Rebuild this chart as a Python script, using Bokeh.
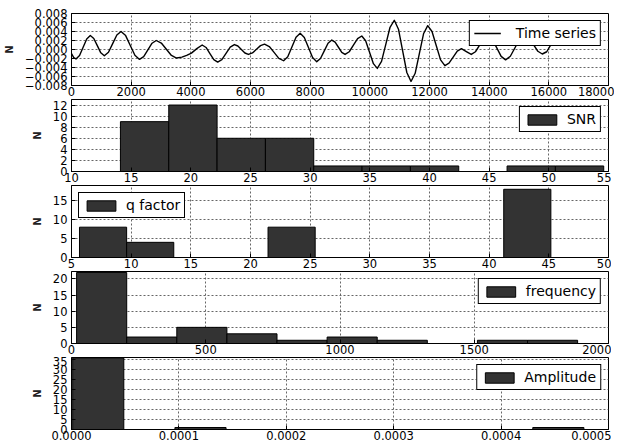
from bokeh.plotting import figure
from bokeh.layouts import column
from bokeh.models import Range1d, FixedTicker
from bokeh.embed import file_html
from bokeh.resources import INLINE

FONT = "DejaVu Sans"

# ---------------- data ----------------
ts_x = [0, 75, 150, 270, 390, 510, 630, 747, 865, 982, 1100, 1240, 1380, 1520, 1660,
        1815, 1970, 2125, 2280, 2420, 2560, 2700, 2840, 3010, 3180, 3350, 3520, 3700,
        3860, 4020, 4200, 4380, 4510, 4640, 4770, 4900, 5040, 5180, 5320, 5460, 5577,
        5695, 5812, 5930, 6065, 6200, 6335, 6470, 6630, 6790, 6950, 7110, 7249, 7388,
        7526, 7665, 7804, 7943, 8081, 8220, 8346, 8473, 8599, 8725, 8836, 8948, 9059,
        9170, 9310, 9450, 9590, 9730, 9860, 9990, 10120, 10250, 10392, 10535, 10677,
        10820, 10960, 11100, 11240, 11380, 11520, 11660, 11800, 11940, 12084, 12228,
        12371, 12515, 12654, 12793, 12931, 13070, 13235, 13400, 13540, 13680, 13820,
        13960, 14107, 14255, 14402, 14550, 14710, 14870, 15030, 15190, 15337, 15485,
        15632, 15780, 15930, 16080, 16230, 16384]
ts_y = [-0.0009, -0.0018, -0.0021, -0.00134, 0.0005, 0.00234, 0.0031, 0.00244, 0.00085,
        -0.00074, -0.0014, -0.00061, 0.0013, 0.00321, 0.0040, 0.00309, 0.0009, -0.00129,
        -0.0022, -0.00159, -0.0001, 0.00139, 0.0020, 0.00143, 0.00005, -0.00133, -0.0019,
        -0.0017, -0.0013, -0.0008, 0.0002, 0.0010, 0.00045, -0.0009, -0.00225, -0.0028,
        -0.00223, -0.00085, 0.00053, 0.0011, 0.00078, 0.0, -0.00078, -0.0011, -0.00076,
        0.00005, 0.00086, 0.0012, 0.00066, -0.00065, -0.00196, -0.0025, -0.00161, 0.00055,
        0.00271, 0.0036, 0.00268, 0.00045, -0.00178, -0.0027, -0.0020, -0.0003, 0.0014,
        0.0021, 0.00163, 0.0005, -0.00063, -0.0011, -0.0005, 0.00095, 0.0024, 0.0030,
        0.00195, -0.0006, -0.00315, -0.0042, -0.00264, 0.00115, 0.00494, 0.0065, 0.00451,
        -0.0003, -0.00511, -0.0071, -0.00529, -0.0009, 0.00349, 0.0053, 0.0040, 0.00085,
        -0.0023, -0.0036, -0.00305, -0.0017, -0.00035, 0.0002, -0.00045, -0.0011, -0.0005,
        0.00095, 0.0024, 0.0030, 0.00223, 0.00035, -0.00153, -0.0023, -0.0015, 0.00045,
        0.0024, 0.0032, 0.00259, 0.0011, -0.00039, -0.0010, -0.0005, 0.0012, 0.0022, 0.0026]

snr_edges = [14.1, 18.15, 22.2, 26.25, 30.3, 34.35, 38.4, 42.45, 46.5, 50.55, 54.6]
snr_counts = [9, 12, 6, 6, 1, 1, 1, 0, 1, 1]

q_edges = [5.67, 9.62, 13.57, 17.52, 21.47, 25.42, 29.37, 33.32, 37.27, 41.22, 45.17]
q_counts = [8, 4, 0, 0, 8, 0, 0, 0, 0, 18]

freq_edges = [19, 205.6, 392.2, 578.8, 765.4, 952, 1138.6, 1325.2, 1511.8, 1698.4, 1885]
freq_counts = [22, 2, 5, 3, 1, 2, 1, 0, 1, 1]

amp_edges = [0.0000011, 0.0000487, 0.0000963, 0.0001439, 0.0001915, 0.0002391,
             0.0002867, 0.0003343, 0.0003819, 0.0004295, 0.0004771]
amp_counts = [36, 0, 1, 0, 0, 0, 0, 0, 0, 1]

# ticks / tick labels
ts_xticks = [0, 2000, 4000, 6000, 8000, 10000, 12000, 14000, 16000, 18000]
ts_yticks = [-0.008, -0.006, -0.004, -0.002, 0.0, 0.002, 0.004, 0.006, 0.008]
ts_ylabels = ["\u22120.008", "\u22120.006", "\u22120.004", "\u22120.002", "0.000",
              "0.002", "0.004", "0.006", "0.008"]
snr_xticks = [10, 15, 20, 25, 30, 35, 40, 45, 50, 55]
snr_yticks = [0, 2, 4, 6, 8, 10, 12]
q_xticks = [5, 10, 15, 20, 25, 30, 35, 40, 45, 50]
q_yticks = [0, 5, 10, 15]
freq_xticks = [0, 500, 1000, 1500, 2000]
freq_yticks = [0, 5, 10, 15, 20]
amp_xticks = [0.0, 0.0001, 0.0002, 0.0003, 0.0004, 0.0005]
amp_xlabels = ["0.0000", "0.0001", "0.0002", "0.0003", "0.0004", "0.0005"]
amp_yticks = [0, 5, 10, 15, 20, 25, 30, 35]


def make_fig(xr, yr, top):
    p = figure(frame_width=537, frame_height=72,
               x_range=Range1d(*xr), y_range=Range1d(*yr),
               output_backend="svg", toolbar_location=None,
               min_border_left=68, min_border_right=6,
               min_border_top=top, min_border_bottom=0)
    p.outline_line_color = "black"
    p.outline_line_alpha = 1
    p.outline_line_width = 1
    p.background_fill_color = "white"
    p.border_fill_color = "white"
    return p


def style(p, xticks, yticks, xlabels=None, ylabels=None):
    p.xaxis.ticker = FixedTicker(ticks=xticks)
    p.yaxis.ticker = FixedTicker(ticks=yticks)
    if xlabels:
        p.xaxis.major_label_overrides = dict(zip(xticks, xlabels))
    if ylabels:
        p.yaxis.major_label_overrides = dict(zip(yticks, ylabels))
    for ax in p.axis:
        ax.major_tick_in = 4
        ax.major_tick_out = 0
        ax.minor_tick_in = 0
        ax.minor_tick_out = 0
        ax.major_tick_line_color = "black"
        ax.axis_line_color = "black"
        ax.major_label_text_font = FONT
        ax.major_label_text_font_size = "11.5px"
        ax.major_label_text_color = "black"
    p.xaxis.major_label_standoff = 1
    p.yaxis.major_label_standoff = 4
    p.yaxis.axis_label = "N"
    p.yaxis.axis_label_text_font = FONT
    p.yaxis.axis_label_text_font_size = "10px"
    p.yaxis.axis_label_text_font_style = "bold"
    p.yaxis.axis_label_text_color = "#222222"
    p.yaxis.axis_label_standoff = 7
    p.grid.grid_line_color = "#666666"
    p.grid.grid_line_dash = "2 2"
    p.grid.grid_line_width = 1


def style_legend(p, loc, gw, gh, standoff):
    lg = p.legend[0]
    lg.location = loc
    lg.margin = 7
    lg.padding = 4
    lg.spacing = 0
    lg.glyph_width = gw
    lg.glyph_height = gh
    lg.label_standoff = standoff
    lg.label_height = 15
    lg.label_text_font = FONT
    lg.label_text_font_size = "14px"
    lg.label_text_color = "black"
    lg.border_line_color = "black"
    lg.border_line_width = 1
    lg.border_line_alpha = 1
    lg.background_fill_color = "white"
    lg.background_fill_alpha = 1


def hist(p, edges, counts, label):
    p.quad(left=edges[:-1], right=edges[1:], bottom=[0] * len(counts), top=counts,
           fill_color="#333333", line_color="black", line_width=1, legend_label=label)


# panel 1: time series
p1 = make_fig((0, 18000), (-0.008, 0.008), 13)
p1.line(ts_x, ts_y, line_color="black", line_width=1.4, line_join="round",
        legend_label="Time series")
style(p1, ts_xticks, ts_yticks, ylabels=ts_ylabels)
style_legend(p1, "top_right", 27, 12, 15)

# panel 2: SNR
p2 = make_fig((10, 55), (0, 13), 1)
hist(p2, snr_edges, snr_counts, "SNR")
style(p2, snr_xticks, snr_yticks)
style_legend(p2, "top_right", 36, 13, 7)

# panel 3: q factor
p3 = make_fig((5, 50), (0, 19), 1)
hist(p3, q_edges, q_counts, "q factor")
style(p3, q_xticks, q_yticks)
style_legend(p3, "top_left", 36, 13, 7)

# panel 4: frequency
p4 = make_fig((0, 2000), (0, 22.3), 1)
hist(p4, freq_edges, freq_counts, "frequency")
style(p4, freq_xticks, freq_yticks)
style_legend(p4, "top_right", 36, 13, 7)

# panel 5: Amplitude
p5 = make_fig((0, 0.0005), (0, 36.2), 1)
hist(p5, amp_edges, amp_counts, "Amplitude")
style(p5, amp_xticks, amp_yticks, xlabels=amp_xlabels)
style_legend(p5, "top_right", 36, 13, 7)

layout = column(p1, p2, p3, p4, p5, spacing=0)

open("out.html", "w").write(file_html(layout, INLINE))
